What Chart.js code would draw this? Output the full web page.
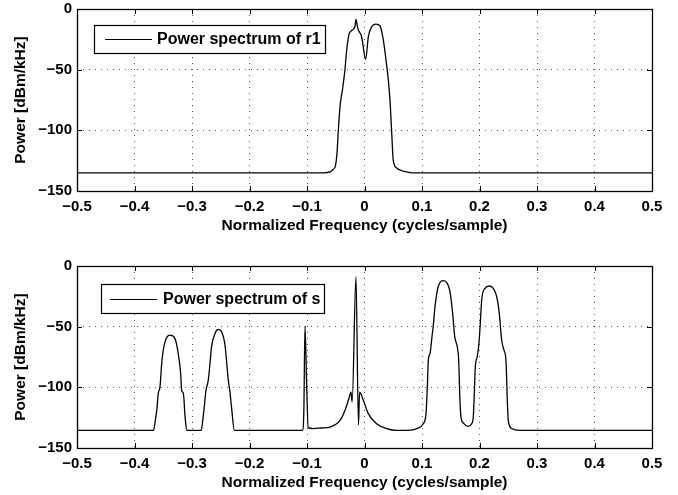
<!DOCTYPE html>
<html>
<head>
<meta charset="utf-8">
<script src="https://cdn.jsdelivr.net/npm/chart.js@4/dist/chart.umd.min.js"></script>
<style>
  html, body { margin: 0; padding: 0; background: #fff; }
  #wrap { position: relative; width: 678px; height: 495px; overflow: hidden; }
  .box { position: absolute; left: 0; width: 678px; height: 238px; }
  #box1 { top: 0; }
  #box2 { top: 257px; }
</style>
</head>
<body>
<div id="wrap">
  <div class="box" id="box1"><canvas id="c1" width="678" height="238"></canvas></div>
  <div class="box" id="box2"><canvas id="c2" width="678" height="238"></canvas></div>
</div>
<script>
// ---- data ----
const xTickValues = [-0.5, -0.4, -0.3, -0.2, -0.1, 0, 0.1, 0.2, 0.3, 0.4, 0.5];
const yTickValues = [-150, -100, -50, 0];
const xTitle = "Normalized Frequency (cycles/sample)";
const yTitle = "Power [dBm/kHz]";
const labelR1 = "Power spectrum of r1";
const labelS = "Power spectrum of s";

const freqR1 = [-0.5, -0.07, -0.06, -0.055, -0.0505, -0.048, -0.0455, -0.0426, -0.038, -0.034,
  -0.031, -0.0264, -0.0194, -0.0165, -0.0148, -0.0125, -0.0107, -0.005, 0.002, 0.0067,
  0.0125, 0.02, 0.027, 0.0327, 0.0374, 0.0414, 0.0443, 0.0473, 0.05, 0.056,
  0.065, 0.073, 0.085, 0.5];
const powR1 = [-135, -135, -134.3, -132.5, -129, -120, -100, -80.5, -65.4, -50,
  -34, -20, -16.8, -14, -8.5, -14, -17.3, -22.8, -41.5, -22.8,
  -14.6, -12.4, -14, -25.5, -42, -58.5, -75, -102, -124.5, -131,
  -133.3, -134.3, -135, -135];

const freqS = [-0.5, -0.367, -0.364, -0.361, -0.3586, -0.3557, -0.3527, -0.35, -0.345, -0.338,
  -0.3296, -0.324, -0.3197, -0.318, -0.315, -0.312, -0.309, -0.284, -0.281, -0.279,
  -0.2757, -0.2717, -0.2687, -0.266, -0.26, -0.2543, -0.2484, -0.2426, -0.2369, -0.234,
  -0.231, -0.2264, -0.108, -0.1055, -0.1035, -0.1005, -0.098, -0.09, -0.075, -0.06,
  -0.05, -0.0426, -0.034, -0.028, -0.0235, -0.0215, -0.0148, -0.0105, -0.0085, -0.002,
  0.0066, 0.021, 0.0386, 0.056, 0.08, 0.0908, 0.1023, 0.107, 0.1093, 0.111,
  0.114, 0.117, 0.1197, 0.1226, 0.1267, 0.131, 0.137, 0.144, 0.1487, 0.1533,
  0.157, 0.1614, 0.1638, 0.166, 0.1678, 0.172, 0.1805, 0.1864, 0.1892, 0.191,
  0.1927, 0.196, 0.199, 0.201, 0.2038, 0.2096, 0.217, 0.224, 0.23, 0.2344,
  0.2386, 0.2426, 0.246, 0.2484, 0.25, 0.256, 0.27, 0.5];
const powS = [-135.5, -135.5, -128, -117.6, -105, -99.7, -80.4, -69.4, -59.8, -57,
  -59.8, -72, -88.7, -102.5, -105, -124.5, -135.5, -135.5, -126, -117.6,
  -102.5, -94, -80.4, -66.7, -55.6, -52.3, -54.3, -65.3, -94, -103.9,
  -117.6, -135.5, -135.5, -120, -49.6, -100, -133, -134, -133.5, -132.8,
  -130.5, -127.3, -119, -110.7, -103.9, -112, -8.8, -131, -104, -110.7,
  -121.7, -130, -134, -135.5, -135.2, -134, -130, -121.7, -99.7, -77.7,
  -72, -59.8, -48.8, -33.6, -19.8, -13.8, -12.1, -14.3, -21.2, -39.1,
  -58.4, -66.7, -77.7, -110.7, -124.5, -129.5, -132.2, -130, -124.5, -105.2,
  -83.2, -75, -63.9, -50.2, -28.1, -18.4, -16.5, -18.4, -25.4, -39.1,
  -61.2, -69.4, -77.7, -110.7, -127.3, -134, -135.5, -135.5];

// ---- helpers ----
const FONT = "'Liberation Sans', Arial, Helvetica, sans-serif";
function fmt(v) {
  const r = Math.round(v * 10) / 10;
  const s = (Object.is(r, -0) ? 0 : r).toString();
  return s.replace('-', '\u2212');
}

const framePlugin = {
  id: 'frameTicks',
  afterDatasetsDraw(chart) {
    const { ctx, chartArea: a, scales } = chart;
    ctx.save();
    ctx.strokeStyle = '#000';
    ctx.lineWidth = 1;
    ctx.setLineDash([]);
    const L = 5;
    ctx.beginPath();
    xTickValues.forEach(v => {
      const px = Math.round(scales.x.getPixelForValue(v)) + 0.5;
      ctx.moveTo(px, a.bottom); ctx.lineTo(px, a.bottom - L);
      ctx.moveTo(px, a.top); ctx.lineTo(px, a.top + L);
    });
    yTickValues.forEach(v => {
      const py = Math.round(scales.y.getPixelForValue(v)) + 0.5;
      ctx.moveTo(a.left, py); ctx.lineTo(a.left + L, py);
      ctx.moveTo(a.right, py); ctx.lineTo(a.right - L, py);
    });
    ctx.stroke();
    ctx.lineWidth = 1.3;
    ctx.strokeRect(Math.round(a.left) + 0.5, Math.round(a.top) + 0.5,
      Math.round(a.right - a.left), Math.round(a.bottom - a.top));
    ctx.restore();
  },
  afterDraw(chart) {
    const o = chart.options.plugins.boxLegend;
    if (!o) return;
    const { ctx, chartArea: a } = chart;
    const ds = chart.data.datasets[0];
    ctx.save();
    ctx.font = 'bold 16px ' + FONT;
    const tw = ctx.measureText(ds.label).width;
    const x0 = a.left + o.dx, y0 = a.top + o.dy;
    const w = o.textOffset + tw + 4, h = o.h;
    ctx.fillStyle = '#fff';
    ctx.fillRect(x0, y0, w, h);
    ctx.strokeStyle = '#000';
    ctx.lineWidth = 1.2;
    ctx.strokeRect(Math.round(x0) + 0.5, Math.round(y0) + 0.5, Math.round(w), Math.round(h));
    const cy = Math.round(y0 + h / 2) + 0.5;
    ctx.lineWidth = 1;
    ctx.beginPath();
    ctx.moveTo(x0 + o.lineStart, cy);
    ctx.lineTo(x0 + o.lineStart + 47, cy);
    ctx.stroke();
    ctx.fillStyle = '#000';
    ctx.textBaseline = 'middle';
    ctx.textAlign = 'left';
    ctx.fillText(ds.label, x0 + o.textOffset, y0 + h / 2 + 1);
    ctx.restore();
  }
};

function makeChart(canvasId, label, freq, pow, legendOpts) {
  const pts = freq.map((f, i) => ({ x: f, y: pow[i] }));
  return new Chart(document.getElementById(canvasId), {
    type: 'line',
    data: {
      datasets: [{
        label: label,
        data: pts,
        borderColor: '#000',
        borderWidth: 1.3,
        pointRadius: 0,
        fill: false,
        cubicInterpolationMode: 'monotone'
      }]
    },
    options: {
      responsive: false,
      animation: false,
      devicePixelRatio: 1,
      layout: { padding: { left: 0, right: 26, top: 9, bottom: 0 } },
      plugins: {
        legend: { display: false },
        tooltip: { enabled: false },
        boxLegend: legendOpts
      },
      scales: {
        x: {
          type: 'linear',
          min: -0.5, max: 0.5,
          afterBuildTicks: s => { s.ticks = xTickValues.map(v => ({ value: v })); },
          afterFit: s => { s.height = 47; s.paddingLeft = 0; s.paddingRight = 0; },
          ticks: {
            callback: v => fmt(v),
            font: { family: FONT, size: 15, weight: 'bold' },
            color: '#000',
            padding: 7,
            maxRotation: 0,
            autoSkip: false
          },
          grid: { color: '#555', lineWidth: 1, drawTicks: false, tickLength: 0 },
          border: { display: false, dash: [1, 5] },
          title: {
            display: true, text: xTitle, color: '#000',
            font: { family: FONT, size: 15.5, weight: 'bold' },
            padding: { top: 0, bottom: 3 }
          }
        },
        y: {
          type: 'linear',
          min: -150, max: 0,
          afterBuildTicks: s => { s.ticks = yTickValues.map(v => ({ value: v })); },
          afterFit: s => { s.width = 77; s.paddingTop = 0; s.paddingBottom = 0; },
          ticks: {
            callback: v => fmt(v),
            font: { family: FONT, size: 15, weight: 'bold' },
            color: '#000',
            padding: 5
          },
          grid: { color: '#555', lineWidth: 1, drawTicks: false, tickLength: 0 },
          border: { display: false, dash: [1, 5] },
          title: {
            display: true, text: yTitle, color: '#000',
            font: { family: FONT, size: 15.5, weight: 'bold' },
            padding: { top: 11, bottom: 0 }
          }
        }
      }
    },
    plugins: [framePlugin]
  });
}

makeChart('c1', labelR1, freqR1, powR1, { dx: 17, dy: 16, h: 28, lineStart: 11, textOffset: 63 });
makeChart('c2', labelS, freqS, powS, { dx: 24, dy: 18, h: 29, lineStart: 9, textOffset: 62 });
</script>
</body>
</html>
